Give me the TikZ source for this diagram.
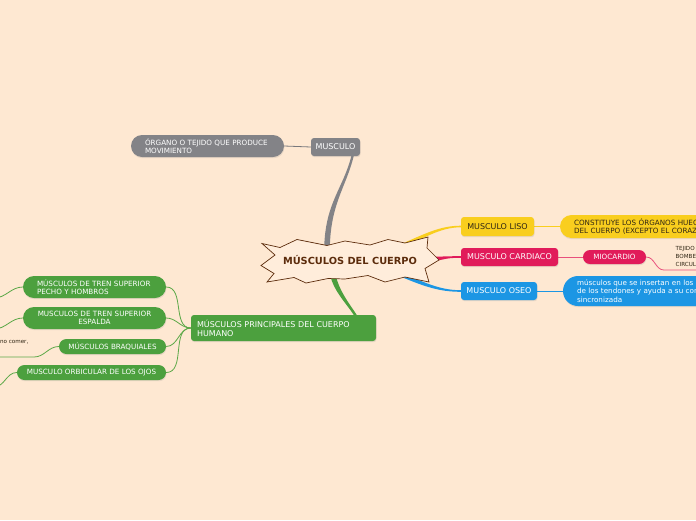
\documentclass[tikz,border=0pt]{standalone}
\usepackage{fontspec}
\setmainfont{DejaVu Sans}
\usetikzlibrary{calc,shadows}
\pgfdeclarelayer{back}
\pgfsetlayers{back,main}
\definecolor{bgpeach}{RGB}{254,232,210}
\definecolor{mgray}{RGB}{131,131,135}
\definecolor{linegray}{RGB}{120,120,124}
\definecolor{mgreen}{RGB}{76,160,62}
\definecolor{twiggreen}{RGB}{92,168,72}
\definecolor{myellow}{RGB}{249,206,30}
\definecolor{mcrim}{RGB}{225,27,90}
\definecolor{twigpink}{RGB}{232,80,124}
\definecolor{mblue}{RGB}{28,150,228}
\definecolor{rootbrown}{RGB}{92,44,12}
\definecolor{rootfill}{RGB}{255,237,219}
\definecolor{darktxt}{RGB}{48,38,20}
\newcommand{\mapfont}[2]{\fontsize{#1}{#2}\selectfont}
\tikzset{
  mapshadow/.style={drop shadow={opacity=0.18, shadow xshift=0.5pt, shadow yshift=-1.2pt}},
  topic/.style={mapshadow, rounded corners=3pt, inner sep=0pt, minimum height=18pt,
                text=white, font=\mapfont{8}{9}},
  leaf/.style={mapshadow, rounded corners=#1, inner xsep=14pt, inner ysep=0pt,
               align=left, text=white, font=\mapfont{7.2}{8.3}},
  twig/.style={line width=0.8pt},
  note/.style={inner sep=0pt, align=left, text=darktxt, font=\mapfont{5.6}{8}},
  burst/.style={draw=rootbrown, fill=rootfill, line width=0.7pt, line join=miter},
}
\begin{document}
\begin{tikzpicture}[x=1pt,y=-1pt]
  \useasboundingbox (0,0) rectangle (696,520);
  \begin{pgfonlayer}{back}
    \fill[bgpeach] (0,0) rectangle (696,520);
  \end{pgfonlayer}
  \clip (0,0) rectangle (696,520);

  % central topic and main branches
  \node[inner sep=0pt, minimum width=175pt, minimum height=46pt, text=rootbrown,
        font=\bfseries\mapfont{9.8}{11}] (root) at (350,260) {MÚSCULOS DEL CUERPO};
  \node[topic, fill=mgray, minimum width=49pt] (musculo) at (335.5,147) {MUSCULO};
  \node[leaf=11pt, fill=mgray, text width=125pt, minimum height=22pt] (organo) at (207.5,146)
       {ÓRGANO O TEJIDO QUE PRODUCE\\MOVIMIENTO};
  \node[topic, fill=mgreen, inner xsep=6pt, text width=173pt, minimum height=26pt,
        align=left] (principales) at (283.5,328) {MÚSCULOS PRINCIPALES DEL CUERPO\\HUMANO};
  \node[topic, fill=myellow, text=darktxt, minimum width=73pt, minimum height=19pt] (liso)
       at (497.5,226.5) {MUSCULO LISO};
  \node[topic, fill=mcrim, minimum width=97pt] (cardiaco) at (509.5,257) {MUSCULO CARDIACO};
  \node[topic, fill=mblue, minimum width=76pt] (oseo) at (499,291) {MUSCULO OSEO};

  % left group
  \node[leaf=11pt, fill=mgreen, text width=115pt, minimum height=22pt] (pecho) at (94.5,287)
       {MÚSCULOS DE TREN SUPERIOR\\PECHO Y HOMBROS};
  \node[leaf=11pt, fill=mgreen, text width=115pt, minimum height=22pt, align=center] (espalda)
       at (94.5,318) {MUSCULOS DE TREN SUPERIOR\\ESPALDA};
  \node[leaf=7.5pt, fill=mgreen, inner xsep=0pt, minimum width=107pt, minimum height=15pt]
       (braquiales) at (112.5,346.5) {MÚSCULOS BRAQUIALES};
  \node[leaf=7.5pt, fill=mgreen, inner xsep=0pt, minimum width=149pt, minimum height=15pt]
       (ojos) at (91.5,372.5) {MUSCULO ORBICULAR DE LOS OJOS};
  \node[note, anchor=east] (nocomer) at (28.5,342.5) {no comer,};

  % right group
  \node[leaf=11.5pt, fill=myellow, text=darktxt, text width=200pt, minimum height=23pt]
       (huecos) at (674,226.5) {CONSTITUYE LOS ÓRGANOS HUECOS\\DEL CUERPO (EXCEPTO EL CORAZÓN)};
  \node[leaf=7pt, fill=mcrim, inner xsep=0pt, minimum width=63pt, minimum height=14pt]
       (miocardio) at (614.5,257) {MIOCARDIO};
  \node[note, anchor=west] (tejido) at (675.5,256.5) {TEJIDO\\BOMBEA\\CIRCULA};
  \node[leaf=15pt, fill=mblue, text width=240pt, minimum height=30pt] (insertan) at (697,291)
       {músculos que se insertan en los huesos por medio\\de los tendones y ayuda a su contracción\\sincronizada};

  \begin{pgfonlayer}{back}
    % thick branches, tucked under the burst
    \coordinate (g0) at ($(root.north)+(-23,11)$);
    \coordinate (g1) at ($(musculo.south)+(17,0)$);
    \fill[mgray] ($(g0)+(-2.8,0)$) .. controls +(1,-45) and +(-8,32) .. ($(g1)+(-1.2,0)$)
      -- ($(g1)+(1.2,0)$) .. controls +(-8,32) and +(1,-45) .. ($(g0)+(2.8,0)$) -- cycle;
    \coordinate (n0) at ($(root.south)+(-17,-8)$);
    \coordinate (n1) at ($(principales.north east)+(-21,0)$);
    \fill[mgreen] ($(n0)+(-2.8,0)$) .. controls +(3,15) and +(-8,-12) .. ($(n1)+(-1.5,0)$)
      -- ($(n1)+(1.5,0)$) .. controls +(-8,-12) and +(3,15) .. ($(n0)+(2.8,0)$) -- cycle;
    \foreach \nd/\col/\sx/\sy/\dy in {liso/myellow/395/249/-12, cardiaco/mcrim/420/259/0,
                                      oseo/mblue/395/272/12}
      \fill[\col] (\sx,\sy-2.2) .. controls +(28,\dy) and +(-22,0) .. ($(\nd.west)+(0,-0.8)$)
        -- ($(\nd.west)+(0,0.8)$) .. controls +(-22,0) and +(28,\dy) .. (\sx,\sy+2.2) -- cycle;

    % the burst
    \draw[burst] (262,243.5) -- (280,247.5) -- (297,239.5) -- (327,245.5) -- (345,241)
      -- (370,245) -- (388,239.5) -- (405,243) -- (428,237) -- (427,248) -- (439,260)
      -- (425,268.5) -- (429,282) -- (405,277) -- (385,282) -- (368,275.5) -- (345,279)
      -- (328,278.5) -- (306,283) -- (294,277.5) -- (267,282) -- (274,273.5) -- (261,265.5)
      -- (275,255) -- cycle;

    % thin twigs
    \draw[twig, linegray] (musculo.west) -- (organo.east);
    \draw[twig, myellow] (liso.east) -- (huecos.west);
    \draw[twig, twigpink] (cardiaco.east) -- (miocardio.west);
    \draw[twig, mblue] (oseo.east) -- (insertan.west);
    \coordinate (tjend) at (700,270);
    \draw[twig, twigpink] (miocardio.east) to[out=0,in=180] ($(tjend)+(-36,0)$) -- (tjend);
    \foreach \kid in {pecho,espalda,braquiales,ojos}
      \draw[twig, twiggreen] (principales.west) to[out=180,in=0] (\kid.east);

    % loose ends running off the page
    \coordinate (e1) at (-6,298);
    \coordinate (e2) at (-6,329);
    \coordinate (e3) at (-6,357);
    \coordinate (e4) at (-6,387);
    \draw[twig, twiggreen] (pecho.west) to[out=180,in=0] (e1);
    \draw[twig, twiggreen] (espalda.west) to[out=180,in=0] (e2);
    \draw[twig, twiggreen] (braquiales.west) to[out=180,in=0] ($(e3)+(40,0)$) -- (e3);
    \draw[twig, twiggreen] (ojos.west) to[out=180,in=0] (e4);
  \end{pgfonlayer}
\end{tikzpicture}
\end{document}
